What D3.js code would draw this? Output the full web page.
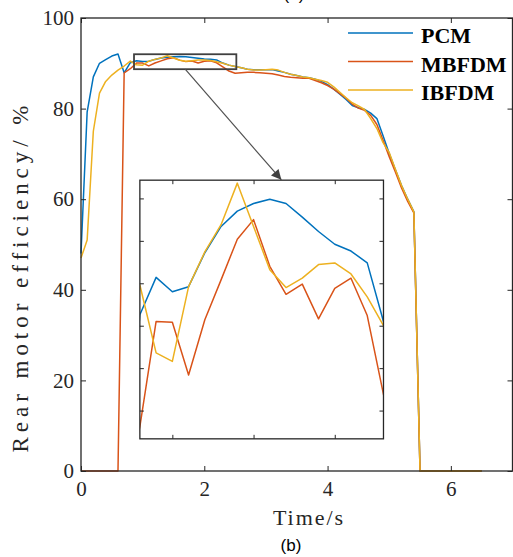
<!DOCTYPE html>
<html>
<head>
<meta charset="utf-8">
<script src="https://cdn.jsdelivr.net/npm/d3@7"></script>
<style>
  body { margin: 0; background: #fff; }
  svg { display: block; }
</style>
</head>
<body>
<svg id="chart" width="513" height="557"></svg>
<script>
// time axis, s
const time = [
  0.0, 0.1, 0.2, 0.3, 0.4, 0.5, 0.6, 0.7, 0.8, 0.9,
  1.0, 1.1, 1.2, 1.3, 1.4, 1.5, 1.6, 1.7, 1.8, 1.9,
  2.0, 2.1, 2.2, 2.3, 2.4, 2.5, 2.6, 2.7, 2.8, 2.9,
  3.0, 3.1, 3.2, 3.3, 3.4, 3.5, 3.6, 3.7, 3.8, 3.9,
  4.0, 4.1, 4.2, 4.3, 4.4, 4.5, 4.6, 4.7, 4.8, 4.9,
  5.0, 5.1, 5.2, 5.3, 5.4, 5.5, 5.6, 5.7, 5.8, 5.9,
  6.0, 6.1, 6.2, 6.3, 6.4, 6.5
];

// rear motor efficiency, %
const pcm = [
  48, 79.3, 87.0, 90.0, 90.8, 91.6, 92.05, 87.9, 90.13, 90.57,
  90.40, 90.46, 90.86, 91.17, 91.35, 91.44, 91.49, 91.44, 91.28, 91.11,
  90.96, 90.88, 90.74, 90.05, 89.6, 89.3, 89.0, 88.7, 88.6, 88.6,
  88.6, 88.6, 88.3, 88.0, 87.6, 87.3, 87.0, 86.8, 86.5, 86.0,
  85.3, 84.3, 83.2, 82.0, 80.7, 80.2, 79.8, 79.0, 77.8, 74.0,
  70.1, 66.5, 63.0, 60.0, 57.2, 0, 0, 0, 0, 0,
  0, 0, 0, 0, 0, 0
];
const mbfdm = [
  0, 0, 0, 0, 0, 0, 0, 87.9, 88.81, 90.05,
  90.04, 89.42, 90.07, 90.54, 91.02, 91.25, 90.70, 90.37, 90.49, 90.08,
  90.44, 90.56, 90.12, 89.19, 88.3, 87.8, 87.9, 88.0, 88.0, 87.9,
  87.8, 87.7, 87.4, 87.1, 86.9, 86.8, 86.7, 86.7, 86.2, 85.7,
  85.1, 84.3, 83.3, 82.3, 81.0, 80.1, 79.6, 78.5, 76.5, 73.0,
  69.4, 66.0, 62.5, 59.5, 57.0, 0, 0, 0, 0, 0,
  0, 0, 0, 0, 0, 0
];
const ibfdm = [
  47, 51, 75, 83.4, 86, 87.4, 88.5, 89.4, 90.48, 89.68,
  89.58, 90.46, 90.87, 91.19, 91.68, 91.17, 90.66, 90.45, 90.56, 90.72,
  90.74, 90.61, 90.34, 90.00, 89.6, 89.3, 89.0, 88.7, 88.5, 88.5,
  88.6, 88.7, 88.5, 88.0, 87.6, 87.3, 87.0, 86.8, 86.5, 86.2,
  85.8, 84.8, 83.6, 82.4, 81.3, 80.6, 79.8, 77.8, 75.6, 72.5,
  70.3, 66.6, 63.0, 60.0, 57.2, 0, 0, 0, 0, 0,
  0, 0, 0, 0, 0, 0
];

const seriesNames = ['PCM', 'MBFDM', 'IBFDM'];
const seriesColours = ['#0072BD', '#D95319', '#EDB120'];
const seriesValues = [pcm, mbfdm, ibfdm];

const xTicks = [0, 2, 4, 6];
const yTicks = [0, 20, 40, 60, 80, 100];
const insetXTicks = [1.0, 1.5, 2.0];
const insetYTicks = [89, 89.5, 90, 90.5, 91, 91.5];

// zoomed window, the inset placement and arrow, all in main data units
const zoomBox = { t: [0.86, 2.52], v: [88.7, 92.0] };
const insetArea = { t: [0.955, 4.907], v: [7.1, 64.2] };
const insetDomain = { t: [0.8, 2.3], v: [88.667, 91.715] };
const arrowEnd = [3.25, 64.3];

const axisColour = '#262626';
const serif = "'Liberation Serif', 'Times New Roman', Times, serif";
const sans = "'Liberation Sans', Arial, Helvetica, sans-serif";
const svg = d3.select('#chart');

const x = d3.scaleLinear().domain([0, 7]).range([81, 512.5]);
const y = d3.scaleLinear().domain([0, 100]).range([471, 18]);

const line = (xs, ys) => d3.line()
  .x(d => xs(time[d.i]))
  .y(d => ys(d.v));

const points = vals => vals.map((v, i) => ({ i, v }));

// main curves
const main = svg.append('g');
seriesValues.forEach((vals, k) => {
  main.append('path')
    .datum(points(vals))
    .attr('fill', 'none')
    .attr('stroke', seriesColours[k])
    .attr('stroke-width', 1.5)
    .attr('stroke-linejoin', 'round')
    .attr('d', line(x, y));
});

// axes with inward ticks, MATLAB box style
const styleAxis = g => {
  g.attr('font-family', null).attr('font-size', null);
  g.select('.domain').remove();
  g.selectAll('.tick line').attr('stroke', axisColour).attr('stroke-width', 1);
  g.selectAll('.tick text')
    .attr('fill', axisColour)
    .style('font-family', serif)
    .style('font-size', '21px');
};

svg.append('g').attr('transform', `translate(0,${y(0)})`)
  .call(d3.axisBottom(x).tickValues(xTicks).tickSize(-5).tickPadding(10).tickFormat(d3.format('d')))
  .call(styleAxis);
svg.append('g').attr('transform', `translate(0,${y(100)})`)
  .call(d3.axisTop(x).tickValues(xTicks).tickSize(-5).tickFormat(''))
  .call(styleAxis);
svg.append('g').attr('transform', `translate(${x(0)},0)`)
  .call(d3.axisLeft(y).tickValues(yTicks).tickSize(-5).tickPadding(7))
  .call(styleAxis);
svg.append('g').attr('transform', `translate(${x(7)},0)`)
  .call(d3.axisRight(y).tickValues(yTicks).tickSize(-5).tickFormat(''))
  .call(styleAxis);

svg.append('rect')
  .attr('x', x(0)).attr('y', y(100))
  .attr('width', x(7) - x(0)).attr('height', y(0) - y(100))
  .attr('fill', 'none').attr('stroke', axisColour).attr('stroke-width', 1.3);

// axis labels
svg.append('text')
  .attr('x', 308).attr('y', 525)
  .attr('text-anchor', 'middle')
  .attr('textLength', 70).attr('lengthAdjust', 'spacing')
  .style('font-family', serif).style('font-size', '22px')
  .attr('fill', axisColour)
  .text('Time/s');

svg.append('text')
  .attr('transform', 'translate(28,279) rotate(-90)')
  .attr('text-anchor', 'middle')
  .attr('textLength', 347).attr('lengthAdjust', 'spacing')
  .style('font-family', serif).style('font-size', '23px')
  .attr('fill', axisColour)
  .text('Rear motor efficiency/ %');

// sub-figure captions, (a) belongs to the panel above and is cut by the edge
svg.append('text')
  .attr('x', 291).attr('y', 551).attr('text-anchor', 'middle')
  .style('font-family', sans).style('font-size', '17px')
  .text('(b)');
svg.append('text')
  .attr('x', 294).attr('y', 0).attr('text-anchor', 'middle')
  .style('font-family', sans).style('font-size', '17px')
  .text('(a)');

// legend
const legend = svg.append('g');
seriesNames.forEach((name, k) => {
  const ly = 33 + k * 28.5;
  legend.append('line')
    .attr('x1', 348).attr('x2', 413).attr('y1', ly).attr('y2', ly)
    .attr('stroke', seriesColours[k]).attr('stroke-width', 1.5);
  legend.append('text')
    .attr('x', 421).attr('y', ly + 10)
    .style('font-family', serif).style('font-size', '22px').style('font-weight', 'bold')
    .text(name);
});

// zoom box and arrow
svg.append('rect')
  .attr('x', x(zoomBox.t[0])).attr('y', y(zoomBox.v[1]))
  .attr('width', x(zoomBox.t[1]) - x(zoomBox.t[0]))
  .attr('height', y(zoomBox.v[0]) - y(zoomBox.v[1]))
  .attr('fill', 'none').attr('stroke', '#404040').attr('stroke-width', 1.8);

svg.append('defs').append('marker')
  .attr('id', 'head').attr('viewBox', '0 0 10 10')
  .attr('refX', 10).attr('refY', 5)
  .attr('markerWidth', 12).attr('markerHeight', 10)
  .attr('markerUnits', 'userSpaceOnUse')
  .attr('orient', 'auto')
  .append('path').attr('d', 'M0,0 L10,5 L0,10 Z').attr('fill', '#404040');

svg.append('line')
  .attr('x1', x((zoomBox.t[0] + zoomBox.t[1]) / 2)).attr('y1', y(zoomBox.v[0]))
  .attr('x2', x(arrowEnd[0])).attr('y2', y(arrowEnd[1]))
  .attr('stroke', '#505050').attr('stroke-width', 1.2)
  .attr('marker-end', 'url(#head)');

// inset
const ix = d3.scaleLinear().domain(insetDomain.t).range([x(insetArea.t[0]), x(insetArea.t[1])]);
const iy = d3.scaleLinear().domain(insetDomain.v).range([y(insetArea.v[0]), y(insetArea.v[1])]);
const [ix0, ix1] = ix.range();
const [iy0, iy1] = iy.range();

svg.append('clipPath').attr('id', 'insetClip')
  .append('rect').attr('x', ix0).attr('y', iy1).attr('width', ix1 - ix0).attr('height', iy0 - iy1);

svg.append('rect')
  .attr('x', ix0).attr('y', iy1).attr('width', ix1 - ix0).attr('height', iy0 - iy1)
  .attr('fill', '#fff');

const inset = svg.append('g').attr('clip-path', 'url(#insetClip)');
seriesValues.forEach((vals, k) => {
  const pts = points(vals).filter(d => time[d.i] >= 0.7 && time[d.i] <= 2.4);
  inset.append('path')
    .datum(pts)
    .attr('fill', 'none')
    .attr('stroke', seriesColours[k])
    .attr('stroke-width', 1.5)
    .attr('stroke-linejoin', 'round')
    .attr('d', line(ix, iy));
});

svg.append('g').attr('transform', `translate(0,${iy0})`)
  .call(d3.axisBottom(ix).tickValues(insetXTicks).tickSize(-4).tickFormat(''))
  .call(styleAxis);
svg.append('g').attr('transform', `translate(0,${iy1})`)
  .call(d3.axisTop(ix).tickValues(insetXTicks).tickSize(-4).tickFormat(''))
  .call(styleAxis);
svg.append('g').attr('transform', `translate(${ix0},0)`)
  .call(d3.axisLeft(iy).tickValues(insetYTicks).tickSize(-4).tickFormat(''))
  .call(styleAxis);
svg.append('g').attr('transform', `translate(${ix1},0)`)
  .call(d3.axisRight(iy).tickValues(insetYTicks).tickSize(-4).tickFormat(''))
  .call(styleAxis);

svg.append('rect')
  .attr('x', ix0).attr('y', iy1).attr('width', ix1 - ix0).attr('height', iy0 - iy1)
  .attr('fill', 'none').attr('stroke', axisColour).attr('stroke-width', 1.3);
</script>
</body>
</html>
